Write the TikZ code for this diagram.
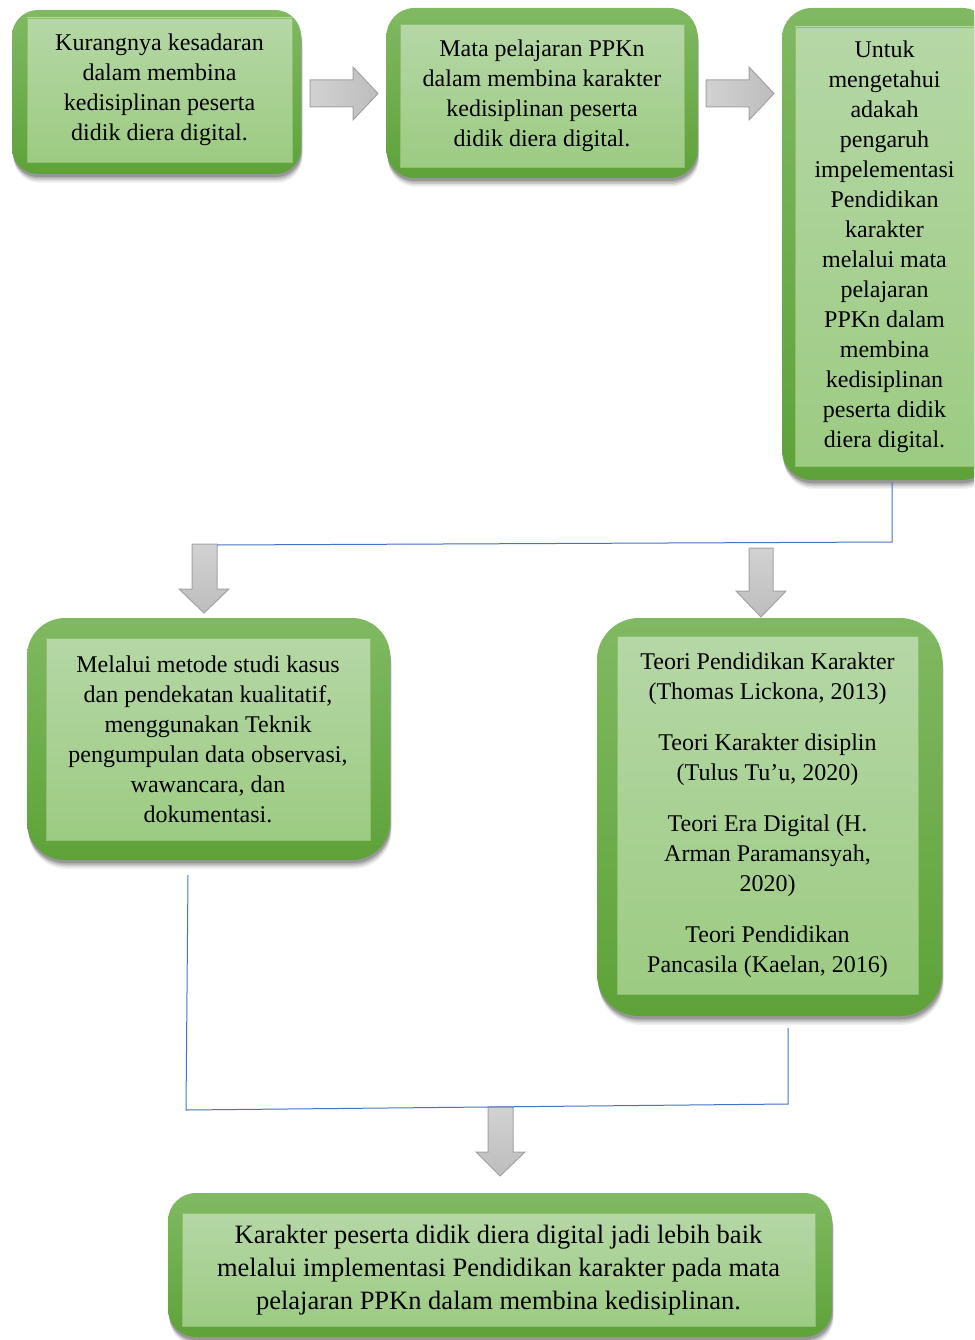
\documentclass[tikz,border=0pt]{standalone}
\usepackage{fontspec}
\setmainfont{Liberation Serif}
\usetikzlibrary{shadows}
\definecolor{gtop}{HTML}{80B962}
\definecolor{gbot}{HTML}{5EA239}
\definecolor{itop}{HTML}{B5D7A6}
\definecolor{ibot}{HTML}{9CCB82}
\definecolor{iedge}{HTML}{8CC06E}
\definecolor{atop}{HTML}{D2D2D2}
\definecolor{abot}{HTML}{BDBDBD}
\definecolor{aedge}{HTML}{A3A3A3}
\definecolor{conn}{HTML}{4472C4}
\tikzset{
  outerbox/.style={rectangle, draw=none, top color=gtop, bottom color=gbot,
    drop shadow={shadow xshift=1.5pt, shadow yshift=-9pt, opacity=0.05, fill=black},
    drop shadow={shadow xshift=1.5pt, shadow yshift=-7.5pt, opacity=0.07, fill=black},
    drop shadow={shadow xshift=1pt, shadow yshift=-6pt, opacity=0.09, fill=black},
    drop shadow={shadow xshift=1pt, shadow yshift=-4.5pt, opacity=0.12, fill=black},
    drop shadow={shadow xshift=0.5pt, shadow yshift=-3pt, opacity=0.15, fill=black},
    inner sep=0pt},
  innerbox/.style={rectangle, draw=iedge, line width=0.8pt, top color=itop, bottom color=ibot,
    inner sep=0pt, align=center, font=\fontsize{24}{30}\selectfont},
  blockarrow/.style={draw=aedge, line width=1pt, top color=atop, bottom color=abot},
  hblockarrow/.style={draw=aedge, line width=1pt, left color=atop, right color=abot},
  connector/.style={draw=conn, line width=1pt},
}
\begin{document}
\begin{tikzpicture}[x=1pt,y=-1pt]
\useasboundingbox (0,0) rectangle (974,1340);
\clip (0,0) rectangle (974,1340);
\fill[white] (0,0) rectangle (974,1340);

% top row
\node[outerbox, minimum width=289pt, minimum height=164pt, rounded corners=26pt] (b1) at (156.5,92) {};
\node[innerbox, minimum width=265pt, minimum height=144pt] (t1) at (159.5,90)
  {Kurangnya kesadaran\\dalam membina\\kedisiplinan peserta\\didik diera digital.};

\node[outerbox, minimum width=311pt, minimum height=170pt, rounded corners=28pt] (b2) at (542,93) {};
\node[innerbox, minimum width=284pt, minimum height=143pt] (t2) at (542,96)
  {Mata pelajaran PPKn\\dalam membina karakter\\kedisiplinan peserta\\didik diera digital.};

\node[outerbox, minimum width=210pt, minimum height=472pt, rounded corners=30pt] (b3) at (887,244) {};
\node[innerbox, minimum width=179pt, minimum height=439pt] (t3) at (884.5,246.5)
  {Untuk\\mengetahui\\adakah\\pengaruh\\impelementasi\\Pendidikan\\karakter\\melalui mata\\pelajaran\\PPKn dalam\\membina\\kedisiplinan\\peserta didik\\diera digital.};

% middle row
\node[outerbox, minimum width=363pt, minimum height=242pt, rounded corners=38pt] (b4) at (208.5,739) {};
\node[innerbox, minimum width=324pt, minimum height=202pt] (t4) at (208,739)
  {Melalui metode studi kasus\\dan pendekatan kualitatif,\\menggunakan Teknik\\pengumpulan data observasi,\\wawancara, dan\\dokumentasi.};

\node[outerbox, minimum width=345pt, minimum height=398pt, rounded corners=42pt] (b5) at (769.5,817) {};
\node[innerbox, minimum width=301pt, minimum height=358pt] (t5) at (767.5,815)
  {Teori Pendidikan Karakter\\(Thomas Lickona, 2013)\\[21pt]Teori Karakter disiplin\\(Tulus Tu’u, 2020)\\[21pt]Teori Era Digital (H.\\Arman Paramansyah,\\2020)\\[21pt]Teori Pendidikan\\Pancasila (Kaelan, 2016)};

% bottom
\node[outerbox, minimum width=664pt, minimum height=144pt, rounded corners=28pt] (b6) at (500,1265) {};
\node[innerbox, minimum width=633pt, minimum height=113pt, font=\fontsize{26.5}{33}\selectfont] (t6) at (498.5,1270)
  {Karakter peserta didik diera digital jadi lebih baik\\melalui implementasi Pendidikan karakter pada mata\\pelajaran PPKn dalam membina kedisiplinan.};

% block arrows (right)
\path[hblockarrow] (310,80) -- (353,80) -- (353,67) -- (378,93.5) -- (353,120) -- (353,107) -- (310,107) -- cycle;
\path[hblockarrow] (706,80) -- (749,80) -- (749,67) -- (774,93.5) -- (749,120) -- (749,107) -- (706,107) -- cycle;
% block arrows (down)
\path[blockarrow] (192,544) -- (217,544) -- (217,589) -- (229,589) -- (204,613) -- (179,589) -- (192,589) -- cycle;
\path[blockarrow] (749,548) -- (773,548) -- (773,591) -- (786,591) -- (761,617) -- (736,591) -- (749,591) -- cycle;
\path[blockarrow] (488,1107) -- (513,1107) -- (513,1152) -- (525,1152) -- (500,1176) -- (476,1152) -- (488,1152) -- cycle;

% connectors
\coordinate (c3) at (892,482);
\coordinate (c3b) at (892,542);
\coordinate (cL) at (217,545);
\draw[connector] (c3) -- (c3b) -- (cL);

\coordinate (c4) at (188,875);
\coordinate (c4b) at (186,1110);
\coordinate (c5b) at (788,1104);
\coordinate (c5) at (788,1028);
\draw[connector] (c4) -- (c4b) -- (c5b) -- (c5);
\end{tikzpicture}
\end{document}
